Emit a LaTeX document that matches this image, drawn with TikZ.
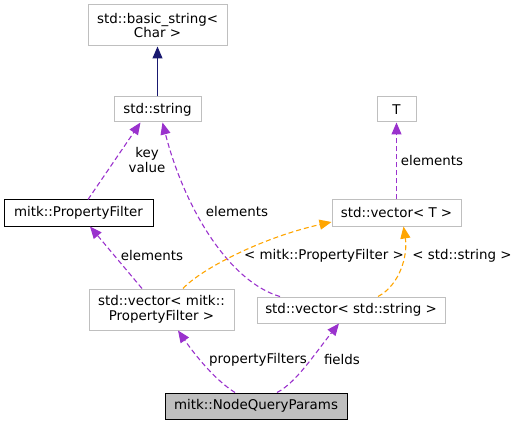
\documentclass[tikz,border=0pt]{standalone}
\usepackage{fontspec}
\setmainfont{DejaVu Sans}
\usetikzlibrary{arrows.meta,calc}
\definecolor{bgray}{HTML}{BFBFBF}
\definecolor{purp}{HTML}{9A32CD}
\definecolor{orng}{HTML}{FFA500}
\definecolor{mnavy}{HTML}{191970}
\definecolor{nqfill}{HTML}{BFBFBF}
\begin{document}
\begin{tikzpicture}[x=1pt,y=-1pt,
  txt/.style={font=\fontsize{13.4}{14.5}\selectfont, align=center, inner sep=0pt},
  box/.style={txt, draw=bgray, line width=1pt, fill=white},
  mainbox/.style={txt, draw=black, line width=1pt},
  usage/.style={draw=purp, line width=1.1pt, dash pattern=on 5pt off 3pt, arrows={-{Triangle[length=12pt,width=10pt,fill=purp]}}},
  tmpl/.style={draw=orng, line width=1.1pt, dash pattern=on 5pt off 3pt, arrows={-{Triangle[length=12pt,width=10pt,fill=orng]}}},
  inherit/.style={draw=mnavy, line width=1.1pt, arrows={-{Triangle[length=12pt,width=10pt,fill=mnavy]}}},
  lbl/.style={txt}
]
\useasboundingbox (0,0) rectangle (517,425);

\node[box, minimum width=139pt, minimum height=41pt] (bs) at (157.5,25.5) {std::basic\_string\textless\\Char \textgreater};
\node[box, minimum width=87pt, minimum height=25pt] (str) at (157.5,109.5) {std::string};
\node[box, minimum width=39pt, minimum height=25pt] (T) at (396.5,109.5) {T};
\node[box, minimum width=129pt, minimum height=26pt] (vecT) at (396.5,213) {std::vector\textless{} T \textgreater};
\node[mainbox, fill=white, minimum width=149pt, minimum height=26pt] (pf) at (78.5,213) {mitk::PropertyFilter};
\node[box, minimum width=145pt, minimum height=41pt] (vecPF) at (161.5,309.5) {std::vector\textless{} mitk::\\PropertyFilter \textgreater};
\node[box, minimum width=188pt, minimum height=26pt] (vecS) at (351,310) {std::vector\textless{} std::string \textgreater};
\node[mainbox, fill=nqfill, minimum width=182pt, minimum height=26pt] (nqp) at (256,406) {mitk::NodeQueryParams};

% inheritance
\draw[inherit] (str.north) -- (bs.south);

% PropertyFilter -> std::string
\draw[usage] ($(pf.north)+(9.5,0)$) -- ($(str.south)+(-17,0)$);
\node[lbl] (kv) at (147,160) {key\\value};

% vector<string> -> std::string
\draw[usage] ($(vecS.north)+(-71,0)$) .. controls (230,282) and (185,210) .. ($(str.south)+(5,0)$);
\node[lbl] (el1) at (237,212) {elements};

% vector<T> -> T
\draw[usage] (vecT.north) -- (T.south);
\node[lbl] (el2) at (432,161) {elements};

% vector<PF> -> PF
\draw[usage] ($(vecPF.north)+(-19.5,0)$) -- ($(pf.south)+(11.5,0)$);
\node[lbl] (el3) at (152,256) {elements};

% template instantiations
\draw[tmpl] ($(vecPF.north)+(21.5,0)$) .. controls (200,270) and (260,238) .. ($(vecT.west)+(0,9)$);
\node[lbl] (t1) at (324,256) {\textless{} mitk::PropertyFilter \textgreater};
\draw[tmpl] ($(vecS.north)+(27,0)$) .. controls (400,285) and (408,255) .. ($(vecT.south)+(7,0)$);
\node[lbl] (t2) at (462,256) {\textless{} std::string \textgreater};

% NodeQueryParams
\draw[usage] ($(nqp.north)+(-21,0)$) .. controls (215,380) and (195,355) .. ($(vecPF.south)+(16.5,0)$);
\node[lbl] (pfl) at (258,360) {propertyFilters};
\draw[usage] ($(nqp.north)+(21,0)$) .. controls (296,383) and (316,352) .. ($(vecS.south)+(-12,0)$);
\node[lbl] (fl) at (342,360) {fields};
\end{tikzpicture}
\end{document}
